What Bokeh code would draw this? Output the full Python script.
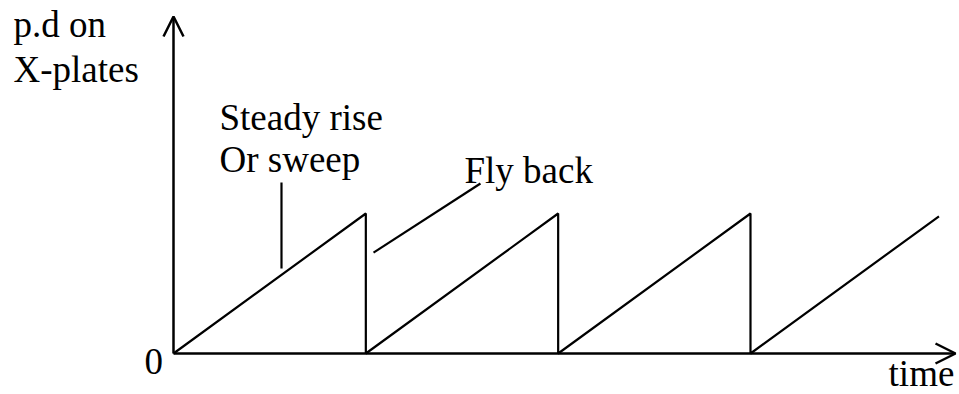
from bokeh.plotting import figure
from bokeh.models import Range1d, Arrow, OpenHead
from bokeh.core.properties import value
from bokeh.embed import file_html
from bokeh.resources import INLINE

# --- data ---
time_vals = [0, 1, 1, 2, 2, 3, 3, 3.98]
pd_vals = [0, 1, 0, 1, 0, 1, 0, 0.98]

y_label_lines = ["p.d on", "X-plates"]
x_label = "time"
origin_label = "0"
sweep_label_lines = ["Steady rise", "Or sweep"]
flyback_label = "Fly back"

# --- figure ---
PX_T = 192.33  # pixels per period
PX_V = 140.0   # pixels per unit p.d
W, H = 959, 394
ox, oy = 173.0, 353.0  # origin position inside the canvas (px)

p = figure(width=W, height=H, output_backend="svg", toolbar_location=None,
           x_range=Range1d(-ox / PX_T, (W - ox) / PX_T),
           y_range=Range1d(-(H - oy) / PX_V, oy / PX_V),
           x_axis_location=None, y_axis_location=None, min_border=0)
p.grid.visible = False
p.outline_line_color = None
p.background_fill_color = "white"
p.border_fill_color = "white"

FONT = value("Liberation Serif")
FS = "37px"
DY = 13.0 / PX_V  # baseline correction for the text renderer

# sawtooth waveform
p.line(time_vals, pd_vals, line_color="black", line_width=2.2)

# axes as arrows
p.add_layout(Arrow(end=OpenHead(size=20, line_width=2.5, line_color="black"),
                   x_start=0, y_start=0, x_end=0, y_end=2.407,
                   line_width=2.5, line_color="black"))
p.add_layout(Arrow(end=OpenHead(size=20, line_width=2.5, line_color="black"),
                   x_start=0, y_start=0, x_end=4.066, y_end=0,
                   line_width=2.5, line_color="black"))

# leader lines
p.segment(x0=[0.5615, 1.04], y0=[1.221, 0.721], x1=[0.5615, 1.596], y1=[0.607, 1.214],
          line_color="black", line_width=2.2)

# texts
def label(xs, ys, texts):
    p.text(x=xs, y=[y + DY for y in ys], text=texts,
           text_font=FONT, text_font_size=FS, text_color="black",
           text_align="left", text_baseline="alphabetic")

label([-0.832, -0.832], [2.257, 1.936], y_label_lines)
label([0.239, 0.239], [1.593, 1.293], sweep_label_lines)
label([1.513], [1.214], [flyback_label])
label([-0.151], [-0.15], [origin_label])
label([3.718], [-0.236], [x_label])

open("out.html", "w").write(file_html(p, INLINE))
